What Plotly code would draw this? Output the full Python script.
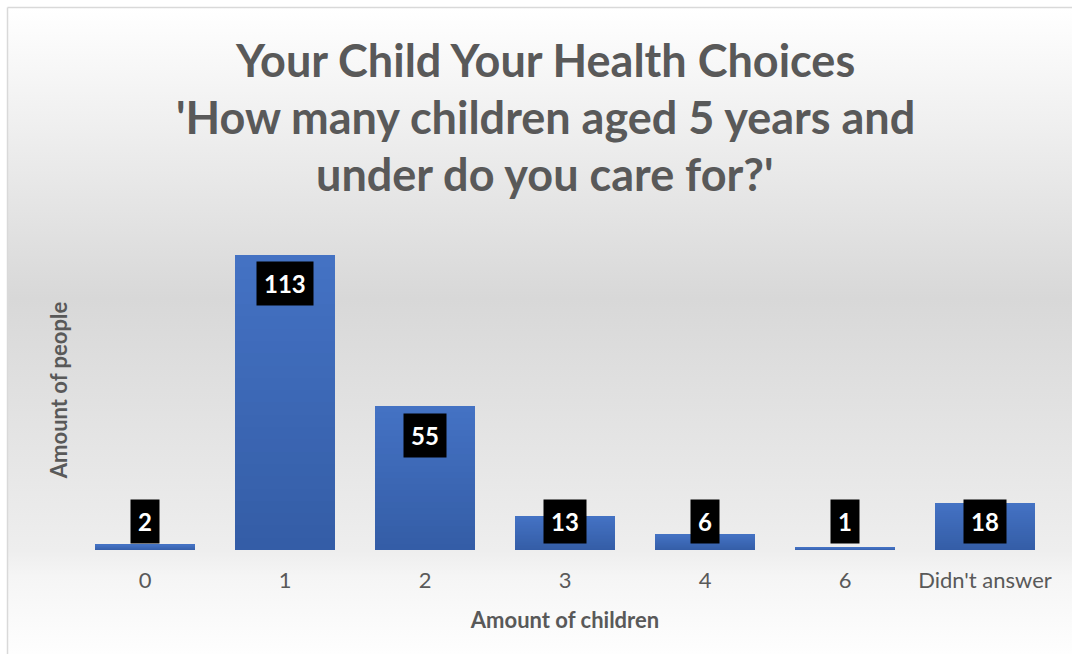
import base64
import plotly.graph_objects as go

# Survey responses: number of children aged 5 and under cared for
categories = ["0", "1", "2", "3", "4", "6", "Didn't answer"]
counts = [2, 113, 55, 13, 6, 1, 18]

title_lines = [
    "Your Child Your Health Choices",
    "'How many children aged 5 years and",
    "under do you care for?'",
]
x_title = "Amount of children"
y_title = "Amount of people"

W, H = 1072, 654
M_L, M_R, M_T, M_B = 75, 17, 230, 104
PLOT_W = W - M_L - M_R
PLOT_H = H - M_T - M_B
Y_MAX = 122.5
PX_PER_UNIT = PLOT_H / Y_MAX

FONT = "Lato"
GREY = "#595959"

# vertical gradient inside each bar, built from stacked slices of the value
N_SLICES = 24
top_rgb = (68, 114, 196)
bot_rgb = (52, 93, 166)


def mix(t):
    r, g, b = (round(bot_rgb[i] + (top_rgb[i] - bot_rgb[i]) * t) for i in range(3))
    return f"rgb({r},{g},{b})"


fig = go.Figure()
for k in range(N_SLICES):
    fig.add_trace(go.Bar(
        x=categories,
        y=[v / N_SLICES for v in counts],
        marker=dict(color=mix((k + 0.5) / N_SLICES), line=dict(width=0)),
        showlegend=False,
        hoverinfo="skip",
    ))

# value labels: black boxes just inside the bar top, never lower than a floor
inset = 29 / PX_PER_UNIT
floor = 28.5 / PX_PER_UNIT
for i, v in enumerate(counts):
    fig.add_annotation(
        x=i, y=max(v - inset, floor), xref="x", yref="y",
        text=f"<b>{v}</b>", showarrow=False,
        font=dict(family=FONT, size=24, color="white"),
        bgcolor="black", borderpad=7, yanchor="middle",
    )


def px_to_paper_x(px):
    return (px - M_L) / PLOT_W


def px_to_paper_y(py):
    return (H - M_B - py) / PLOT_H


# chart title, one annotation per line
for i, line in enumerate(title_lines):
    fig.add_annotation(
        x=px_to_paper_x(545), y=px_to_paper_y(60 + 57 * i),
        xref="paper", yref="paper", text=f"<b>{line}</b>", showarrow=False,
        font=dict(family=FONT, size=45, color=GREY),
        xanchor="center", yanchor="middle",
    )

# soft grey chart-area gradient
svg = (
    '<svg xmlns="http://www.w3.org/2000/svg" width="100" height="100" preserveAspectRatio="none">'
    '<defs><linearGradient id="g" x1="0" y1="0" x2="0" y2="1">'
    '<stop offset="0" stop-color="#ffffff"/>'
    '<stop offset="0.45" stop-color="#d8d8d8"/>'
    '<stop offset="0.84" stop-color="#eeeeee"/>'
    '<stop offset="0.88" stop-color="#f5f5f5"/>'
    '<stop offset="1" stop-color="#fefefe"/>'
    '</linearGradient></defs>'
    '<rect width="100" height="100" fill="url(#g)"/></svg>'
)
src = "data:image/svg+xml;base64," + base64.b64encode(svg.encode()).decode()
fig.add_layout_image(
    source=src, xref="paper", yref="paper",
    x=px_to_paper_x(8), y=px_to_paper_y(8),
    sizex=(W - 8) / PLOT_W, sizey=(H - 8) / PLOT_H,
    xanchor="left", yanchor="top", sizing="stretch", layer="below",
)

# thin chart border along the top and left edges
border = dict(color="#d9d9d9", width=1.5)
fig.add_shape(type="line", xref="paper", yref="paper",
              x0=px_to_paper_x(7.5), x1=px_to_paper_x(W + 5),
              y0=px_to_paper_y(7.5), y1=px_to_paper_y(7.5), line=border)
fig.add_shape(type="line", xref="paper", yref="paper",
              x0=px_to_paper_x(7.5), x1=px_to_paper_x(7.5),
              y0=px_to_paper_y(7.5), y1=px_to_paper_y(H + 5), line=border)

fig.update_layout(
    width=W, height=H,
    margin=dict(l=M_L, r=M_R, t=M_T, b=M_B),
    barmode="stack", bargap=0.28,
    paper_bgcolor="white", plot_bgcolor="rgba(0,0,0,0)",
    font=dict(family=FONT, color=GREY),
)
fig.update_xaxes(
    type="category", showgrid=False, zeroline=False, showline=False,
    ticks="", ticklabelstandoff=15,
    tickfont=dict(family=FONT, size=22, color=GREY),
    title=dict(text=f"<b>{x_title}</b>", font=dict(family=FONT, size=22, color=GREY), standoff=20),
)
fig.update_yaxes(
    range=[0, Y_MAX], showgrid=False, zeroline=False, showline=False,
    showticklabels=False, ticks="",
    title=dict(text=f"<b>{y_title}</b>", font=dict(family=FONT, size=22, color=GREY), standoff=0),
)

fig.write_html("out.html")
